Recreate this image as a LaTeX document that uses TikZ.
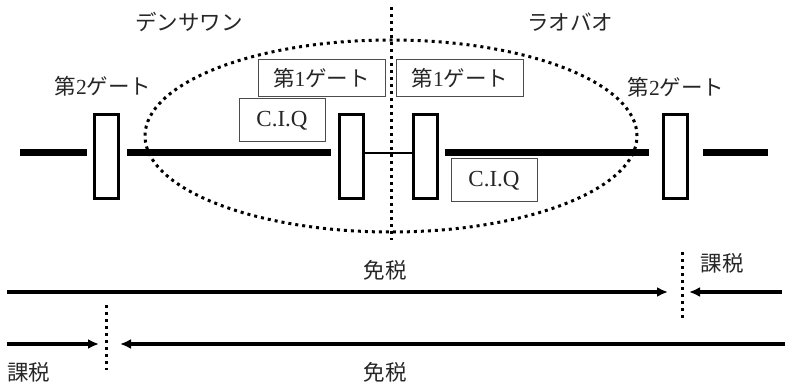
\documentclass[tikz,border=0pt]{standalone}
\usepackage{fontspec}
\setmainfont{Liberation Serif}
\newfontfamily\cjk{Noto Sans CJK JP}
\usetikzlibrary{arrows.meta}
\begin{document}
\begin{tikzpicture}[x=1pt,y=-1pt,
  road/.style={line width=7pt},
  link/.style={line width=2pt},
  gate/.style={draw,fill=white,line width=3pt,minimum width=24pt,minimum height=84pt,inner sep=0pt},
  lbl/.style={font=\cjk\fontsize{21.5}{24}\selectfont,inner sep=0pt,text=black!85},
  tbox/.style={draw=black!70,fill=white,line width=1pt,inner sep=0pt,text=black!85,font=\fontsize{21.5}{24}\selectfont},
  ciq/.style={tbox,minimum width=86pt,minimum height=43pt,font=\fontsize{23}{24}\selectfont},
  gbox/.style={tbox,minimum width=127pt,minimum height=37pt},
  dotline/.style={line width=3pt,dash pattern=on 3pt off 4pt},
  arr/.style={line width=3.2pt,-{Latex[length=11pt,width=10pt]}}
]
\useasboundingbox (0,0) rectangle (785,385);

% zone ellipse and border line
\draw[dotline] (391,136) ellipse [x radius=246pt, y radius=96pt];
\coordinate (vt) at (391,7);
\coordinate (vb) at (391,240);
\draw[dotline] (vt) -- (vb);

% gates
\node[gate] (g2l) at (106.5,156.5) {};
\node[gate] (g1l) at (351.5,156.5) {};
\node[gate] (g1r) at (425,156.5) {};
\node[gate] (g2r) at (675.5,156.5) {};

% road
\coordinate (r0) at (20,153);
\coordinate (r9) at (768,153);
\draw[road,shorten >=6pt] (r0) -- (g2l.west |- r0);
\draw[road,shorten <=7pt,shorten >=7pt] (g2l.east |- r0) -- (g1l.west |- r0);
\draw[link] (g1l.east |- r0) -- (g1r.west |- r0);
\draw[road,shorten <=6pt,shorten >=13pt] (g1r.east |- r0) -- (g2r.west |- r0);
\draw[road,shorten <=14pt] (g2r.east |- r0) -- (r9);

% labels
\node[lbl] (den) at (189,22) {デンサワン};
\node[lbl] (lao) at (570,22) {ラオバオ};
\node[lbl] (g2lt) at (103,86) {第{\rmfamily 2}ゲート};
\node[lbl] (g2rt) at (676,87) {第{\rmfamily 2}ゲート};

\node[gbox] (b1l) at (321.5,78.5) {{\cjk 第}1{\cjk ゲート}};
\node[gbox] (b1r) at (460,78.5) {{\cjk 第}1{\cjk ゲート}};
\node[ciq] (ciql) at (282,120.5) {C.I.Q};
\node[ciq] (ciqr) at (494,180.5) {C.I.Q};

% tax row 1
\coordinate (a1s) at (7,292);
\coordinate (a1e) at (668,292);
\coordinate (a2s) at (782,292);
\coordinate (a2e) at (689,292);
\coordinate (d1t) at (682,252);
\coordinate (d1b) at (682,318);
\draw[arr] (a1s) -- (a1e);
\draw[arr] (a2s) -- (a2e);
\draw[dotline] (d1t) -- (d1b);
\node[lbl] (free1) at (385,270) {免税};
\node[lbl] (tax1) at (722,263) {課税};

% tax row 2
\coordinate (b1s) at (7,344);
\coordinate (b1e) at (99,344);
\coordinate (b2s) at (785,344);
\coordinate (b2e) at (120,344);
\coordinate (d2t) at (106,305);
\coordinate (d2b) at (106,370);
\draw[arr] (b1s) -- (b1e);
\draw[arr] (b2s) -- (b2e);
\draw[dotline] (d2t) -- (d2b);
\node[lbl] (tax2) at (29,372) {課税};
\node[lbl] (free2) at (385,372) {免税};
\end{tikzpicture}
\end{document}
